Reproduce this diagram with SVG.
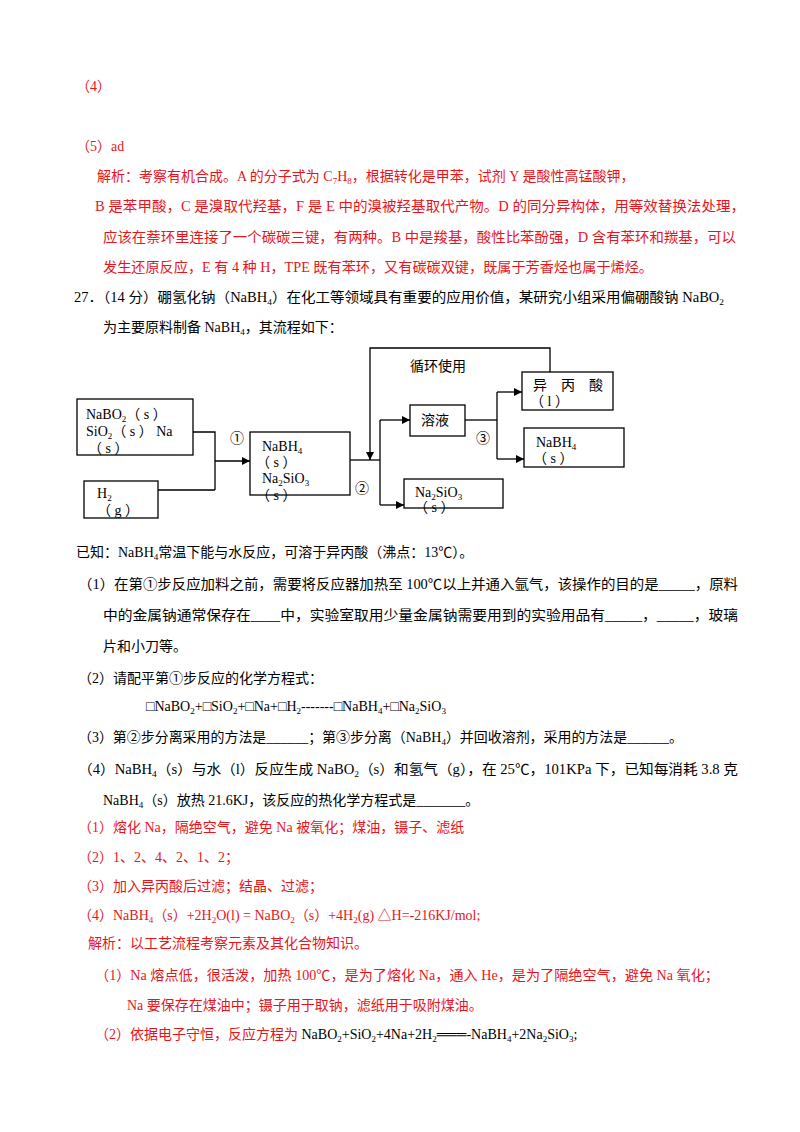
<svg xmlns="http://www.w3.org/2000/svg" width="800" height="1132" viewBox="0 0 800 1132">
<style>
text{font-family:"Liberation Serif","Noto Sans CJK SC",serif;font-size:14px;fill:#000}
.r{fill:#e8141c}
.s{font-size:9px}
.box{fill:#fff;stroke:#000;stroke-width:1.3}
.ln{fill:none;stroke:#000;stroke-width:1.3}
</style>
<defs>
<marker id="a" viewBox="0 0 10 10" refX="10" refY="5" markerWidth="8" markerHeight="8" orient="auto" markerUnits="userSpaceOnUse"><path d="M0,0L10,5L0,10z" fill="#000"/></marker>
</defs>
<rect width="800" height="1132" fill="#fff"/>
<text class="r" x="76" y="91">（4）</text>
<text class="r" x="76" y="151">（5）ad</text>
<text class="r" x="97" y="181">解析：考察有机合成。A 的分子式为 C<tspan class="s" dy="3">7</tspan><tspan dy="-3">H</tspan><tspan class="s" dy="3">8</tspan><tspan dy="-3">，根据转化是甲苯，试剂 Y 是酸性高锰酸钾，</tspan></text>
<text class="r" x="95" y="211" textLength="650" lengthAdjust="spacingAndGlyphs">B 是苯甲酸，C 是溴取代羟基，F 是 E 中的溴被羟基取代产物。D 的同分异构体，用等效替换法处理，</text>
<text class="r" x="103" y="242" textLength="633" lengthAdjust="spacingAndGlyphs">应该在萘环里连接了一个碳碳三键，有两种。B 中是羧基，酸性比苯酚强，D 含有苯环和羰基，可以</text>
<text class="r" x="103" y="272" textLength="550" lengthAdjust="spacingAndGlyphs">发生还原反应，E 有 4 种 H，TPE 既有苯环，又有碳碳双键，既属于芳香烃也属于烯烃。</text>
<text x="74" y="302" textLength="650" lengthAdjust="spacingAndGlyphs">27．（14 分）硼氢化钠（NaBH<tspan class="s" dy="3">4</tspan><tspan dy="-3">）在化工等领域具有重要的应用价值，某研究小组采用偏硼酸钠 NaBO</tspan><tspan class="s" dy="3">2</tspan></text>
<text x="103" y="332">为主要原料制备 NaBH<tspan class="s" dy="3">4</tspan><tspan dy="-3">，其流程如下：</tspan></text>

<g id="connectors">
<path class="ln" d="M193,432H215V490M158,490H215"/>
<path class="ln" d="M215,461H250" marker-end="url(#a)"/>
<path class="ln" d="M350,460H380"/>
<path class="ln" d="M550,372V348H370V460" marker-end="url(#a)"/>
<path class="ln" d="M380,420V505"/>
<path class="ln" d="M380,420H410" marker-end="url(#a)"/>
<path class="ln" d="M380,505H404" marker-end="url(#a)"/>
<path class="ln" d="M465,420H497"/>
<path class="ln" d="M497,392V459"/>
<path class="ln" d="M497,392H522" marker-end="url(#a)"/>
<path class="ln" d="M497,459H524" marker-end="url(#a)"/>
</g>
<text x="410" y="371">循环使用</text>
<text x="230" y="443">①</text>
<text x="355" y="493">②</text>
<text x="476" y="443">③</text>

<g id="n1"><rect class="box" x="77" y="399" width="116" height="56"/>
<text x="86" y="419" font-size="13">NaBO<tspan class="s" dy="3">2</tspan><tspan dy="-3">（ s ）</tspan></text>
<text x="86" y="436" font-size="13">SiO<tspan class="s" dy="3">2</tspan><tspan dy="-3">（ s ） Na</tspan></text>
<text x="88" y="453" font-size="13">（ s ）</text></g>
<g id="n2"><rect class="box" x="84" y="481" width="74" height="37"/>
<text x="97" y="498" font-size="13">H<tspan class="s" dy="3">2</tspan></text>
<text x="97" y="515" font-size="13">（ g ）</text></g>
<g id="n3"><rect class="box" x="250" y="432" width="100" height="63"/>
<text x="262" y="451" font-size="13">NaBH<tspan class="s" dy="3">4</tspan></text>
<text x="256" y="467" font-size="13">（ s ）</text>
<text x="262" y="483" font-size="13">Na<tspan class="s" dy="3">2</tspan><tspan dy="-3">SiO</tspan><tspan class="s" dy="3">3</tspan></text>
<text x="256" y="500" font-size="13">（ s ）</text></g>
<g id="n4"><rect class="box" x="410" y="405" width="55" height="31"/>
<text x="421" y="425">溶液</text></g>
<g id="n5"><rect class="box" x="404" y="479" width="99" height="29"/>
<text x="415" y="497" font-size="13">Na<tspan class="s" dy="3">2</tspan><tspan dy="-3">SiO</tspan><tspan class="s" dy="3">3</tspan></text>
<text x="414" y="512" font-size="13">（ s ）</text></g>
<g id="n6"><rect class="box" x="522" y="372" width="91" height="38"/>
<text x="533" y="390" textLength="70" lengthAdjust="spacing">异丙酸</text>
<text x="530" y="406" font-size="13">（ l ）</text></g>
<g id="n7"><rect class="box" x="524" y="428" width="100" height="39"/>
<text x="536" y="447" font-size="13">NaBH<tspan class="s" dy="3">4</tspan></text>
<text x="533" y="463" font-size="13">（ s ）</text></g>

<text x="76" y="557">已知：NaBH<tspan class="s" dy="3">4</tspan><tspan dy="-3">常温下能与水反应，可溶于异丙酸（沸点：13℃）。</tspan></text>
<text x="78" y="589" textLength="660" lengthAdjust="spacingAndGlyphs">（1）在第①步反应加料之前，需要将反应器加热至 100℃以上并通入氩气，该操作的目的是_____，原料</text>
<text x="103" y="620" textLength="635" lengthAdjust="spacingAndGlyphs">中的金属钠通常保存在____中，实验室取用少量金属钠需要用到的实验用品有_____，_____，玻璃</text>
<text x="103" y="651">片和小刀等。</text>
<text x="78" y="683">（2）请配平第①步反应的化学方程式：</text>
<text x="146" y="711">□NaBO<tspan class="s" dy="3">2</tspan><tspan dy="-3">+□SiO</tspan><tspan class="s" dy="3">2</tspan><tspan dy="-3">+□Na+□H</tspan><tspan class="s" dy="3">2</tspan><tspan dy="-3">-------□NaBH</tspan><tspan class="s" dy="3">4</tspan><tspan dy="-3">+□Na</tspan><tspan class="s" dy="3">2</tspan><tspan dy="-3">SiO</tspan><tspan class="s" dy="3">3</tspan></text>
<text x="78" y="742" textLength="605" lengthAdjust="spacingAndGlyphs">（3）第②步分离采用的方法是______；第③步分离（NaBH<tspan class="s" dy="3">4</tspan><tspan dy="-3">）并回收溶剂，采用的方法是______。</tspan></text>
<text x="78" y="774" textLength="660" lengthAdjust="spacingAndGlyphs">（4）NaBH<tspan class="s" dy="3">4</tspan><tspan dy="-3">（s）与水（l）反应生成 NaBO</tspan><tspan class="s" dy="3">2</tspan><tspan dy="-3">（s）和氢气（g），在 25℃，101KPa 下，已知每消耗 3.8 克</tspan></text>
<text x="103" y="805">NaBH<tspan class="s" dy="3">4</tspan><tspan dy="-3">（s）放热 21.6KJ，该反应的热化学方程式是_______。</tspan></text>
<text class="r" x="78" y="832">（1）熔化 Na，隔绝空气，避免 Na 被氧化；煤油，镊子、滤纸</text>
<text class="r" x="78" y="862">（2）1、2、4、2、1、2；</text>
<text class="r" x="78" y="891">（3）加入异丙酸后过滤；结晶、过滤；</text>
<text class="r" x="78" y="920">（4）NaBH<tspan class="s" dy="3">4</tspan><tspan dy="-3">（s）+2H</tspan><tspan class="s" dy="3">2</tspan><tspan dy="-3">O(l) = NaBO</tspan><tspan class="s" dy="3">2</tspan><tspan dy="-3">（s）+4H</tspan><tspan class="s" dy="3">2</tspan><tspan dy="-3">(g) △H=-216KJ/mol;</tspan></text>
<text class="r" x="88" y="948">解析：以工艺流程考察元素及其化合物知识。</text>
<text class="r" x="95" y="980" textLength="624" lengthAdjust="spacingAndGlyphs">（1）Na 熔点低，很活泼，加热 100℃，是为了熔化 Na，通入 He，是为了隔绝空气，避免 Na 氧化；</text>
<text class="r" x="127" y="1010">Na 要保存在煤油中；镊子用于取钠，滤纸用于吸附煤油。</text>
<text class="r" x="95" y="1039">（2）依据电子守恒，反应方程为 <tspan fill="#000">NaBO</tspan><tspan class="s" fill="#000" dy="3">2</tspan><tspan fill="#000" dy="-3">+SiO</tspan><tspan class="s" fill="#000" dy="3">2</tspan><tspan fill="#000" dy="-3">+4Na+2H</tspan><tspan class="s" fill="#000" dy="3">2</tspan><tspan fill="#000" dy="-3">═══-NaBH</tspan><tspan class="s" fill="#000" dy="3">4</tspan><tspan fill="#000" dy="-3">+2Na</tspan><tspan class="s" fill="#000" dy="3">2</tspan><tspan fill="#000" dy="-3">SiO</tspan><tspan class="s" fill="#000" dy="3">3</tspan><tspan fill="#000" dy="-3">;</tspan></text>
</svg>
